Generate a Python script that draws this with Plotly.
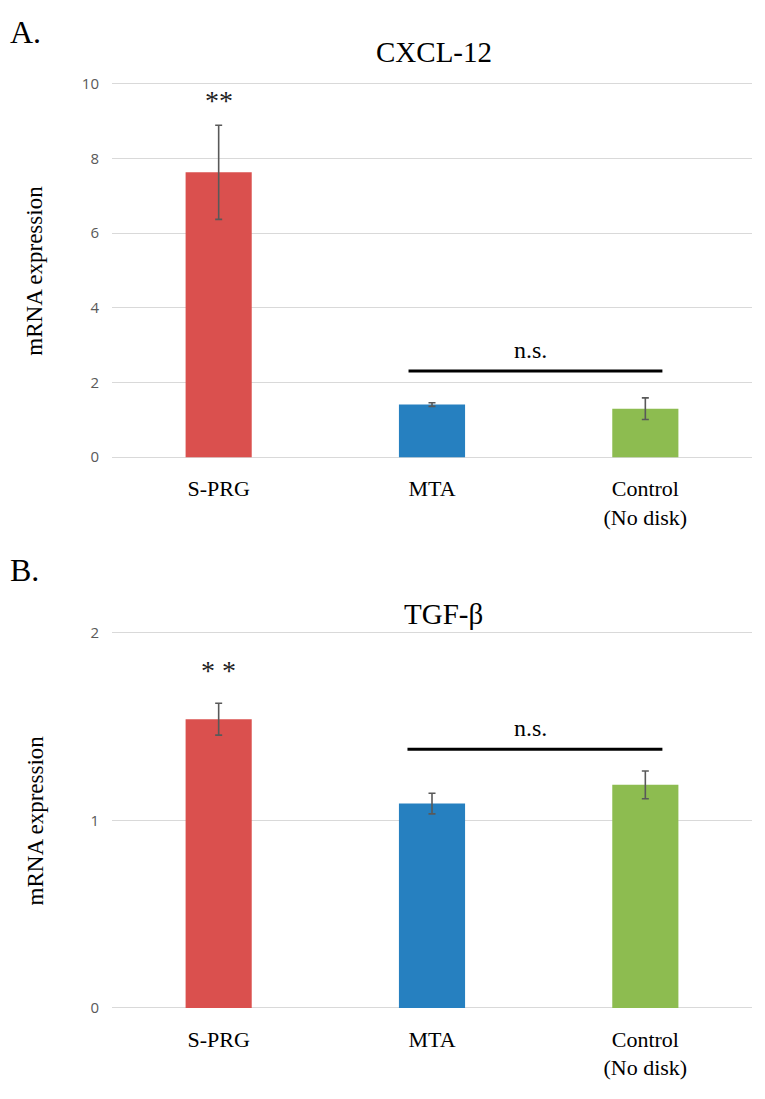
import plotly.graph_objects as go

categories = ["S-PRG", "MTA", "Control<br>(No disk)"]
bar_colors = ["#DA504E", "#2680C0", "#8DBC50"]

cxcl12_mean = [7.63, 1.41, 1.30]
cxcl12_err = [1.26, 0.05, 0.29]

tgfb_mean = [1.54, 1.09, 1.19]
tgfb_err = [0.085, 0.055, 0.074]

# the page body has an 8px margin, so the figure is drawn 8px in and kept smaller
OFF = 8
W, H = 765 - 2 * OFF, 1099 - 2 * OFF
SERIF = "Liberation Serif, Times New Roman, serif"
SANS = "Open Sans, Liberation Sans, Arial, sans-serif"


def py(px):
    return 1 - (px - OFF) / H


def px_x(px):
    return (px - OFF) / W


fig = go.Figure()

fig.add_trace(go.Bar(
    x=categories, y=cxcl12_mean, width=0.31,
    marker=dict(color=bar_colors, line=dict(width=0)),
    error_y=dict(type="data", array=cxcl12_err, color="#595959", thickness=1.6, width=3.5),
    xaxis="x", yaxis="y", showlegend=False,
))
fig.add_trace(go.Bar(
    x=categories, y=tgfb_mean, width=0.31,
    marker=dict(color=bar_colors, line=dict(width=0)),
    error_y=dict(type="data", array=tgfb_err, color="#595959", thickness=1.6, width=3.5),
    xaxis="x2", yaxis="y2", showlegend=False,
))

xdom = [px_x(112), px_x(752)]
common_x = dict(
    type="category", range=[-0.5, 2.5], showgrid=False, zeroline=False, showline=False,
    ticks="", tickfont=dict(family=SERIF, size=22, color="#000000"),
    ticklabelstandoff=14, fixedrange=True,
)
common_y = dict(
    showgrid=True, gridcolor="#D9D9D9", gridwidth=1.3, zeroline=False, showline=False,
    ticks="", tickfont=dict(family=SANS, size=15, color="#595959"),
    ticklabelstandoff=12,
)

# panel A: 0 at 456px, 10 at 77.7px
a_unit = (456 - 77.7) / 10
a_rng = [-0.05, 10.1]
# panel B: 0 at 1014px, 2 at 634px
b_unit = (1014 - 634) / 2
b_rng = [-0.01, 2.03]

fig.update_layout(
    width=W, height=H,
    margin=dict(l=0, r=0, t=0, b=0),
    paper_bgcolor="white", plot_bgcolor="white",
    bargap=0.69,
    xaxis=dict(domain=xdom, anchor="y", **common_x),
    yaxis=dict(domain=[py(456 - a_rng[0] * a_unit), py(456 - a_rng[1] * a_unit)],
               range=a_rng, tickvals=[0, 2, 4, 6, 8, 10], anchor="x", **common_y),
    xaxis2=dict(domain=xdom, anchor="y2", **common_x),
    yaxis2=dict(domain=[py(1014 - b_rng[0] * b_unit), py(1014 - b_rng[1] * b_unit)],
                range=b_rng, tickvals=[0, 1, 2], anchor="x2", **common_y),
)

# significance bars
fig.add_shape(type="line", xref="x", yref="y", x0=0.89, x1=2.08, y0=2.31, y1=2.31,
              line=dict(color="black", width=3))
fig.add_shape(type="line", xref="x2", yref="y2", x0=0.885, x1=2.08, y0=1.38, y1=1.38,
              line=dict(color="black", width=3))

annots = [
    dict(text="**", x=0, y=9.55, xref="x", yref="y", font=dict(family=SERIF, size=28, color="#222")),
    dict(text="n.s.", x=1.46, y=2.88, xref="x", yref="y", font=dict(family=SERIF, size=24, color="#000")),
    dict(text="* *", x=0, y=1.8, xref="x2", yref="y2", font=dict(family=SERIF, size=28, color="#222")),
    dict(text="n.s.", x=1.46, y=1.495, xref="x2", yref="y2", font=dict(family=SERIF, size=24, color="#000")),
    dict(text="CXCL-12", x=px_x(434), y=py(45), xref="paper", yref="paper",
         font=dict(family=SERIF, size=29, color="#000")),
    dict(text="TGF-β", x=px_x(443), y=py(615), xref="paper", yref="paper",
         font=dict(family=SERIF, size=29, color="#000")),
    dict(text="mRNA expression", x=px_x(35), y=py(267), xref="paper", yref="paper", textangle=-90,
         font=dict(family=SERIF, size=23, color="#000")),
    dict(text="mRNA expression", x=px_x(35), y=py(824), xref="paper", yref="paper", textangle=-90,
         font=dict(family=SERIF, size=23, color="#000")),
    dict(text="A.", x=px_x(8), y=py(25), xref="paper", yref="paper", xanchor="left",
         font=dict(family=SERIF, size=32, color="#000")),
    dict(text="B.", x=px_x(8), y=py(570), xref="paper", yref="paper", xanchor="left",
         font=dict(family=SERIF, size=32, color="#000")),
]
for a in annots:
    a.setdefault("showarrow", False)
    a.setdefault("yanchor", "middle")
    a.setdefault("xanchor", "center")
    fig.add_annotation(**a)

fig.write_html("out.html")
